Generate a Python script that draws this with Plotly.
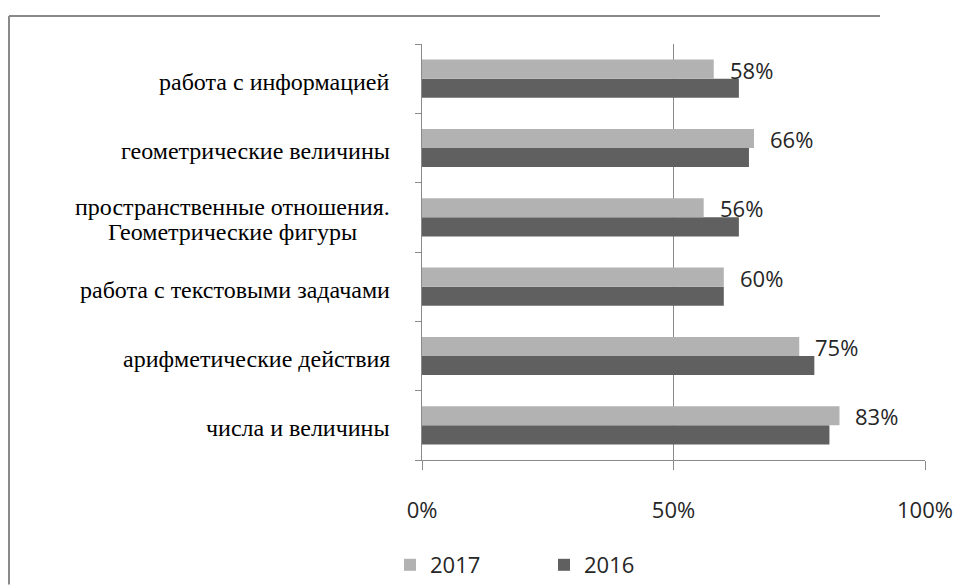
import plotly.graph_objects as go

# Categories (bottom to top) and shares of completed tasks
categories = [
    "числа и величины",
    "арифметические действия",
    "работа с текстовыми задачами",
    "пространственные отношения.<br>Геометрические фигуры",
    "геометрические величины",
    "работа с информацией",
]
values_2017 = [0.83, 0.75, 0.60, 0.56, 0.66, 0.58]
values_2016 = [0.81, 0.78, 0.60, 0.63, 0.65, 0.63]
x_tick_values = [0, 0.5, 1.0]
x_tick_labels = ["0%", "50%", "100%"]

COLOR_2017 = "#b2b2b2"
COLOR_2016 = "#606060"
AXIS_GRAY = "#8a8a8a"
TEXT_DARK = "#262626"
SANS = "Open Sans"
SERIF = "Liberation Serif"

W, H = 957, 585
ML, MR, MT, MB = 422, 32, 44, 125
PW, PH = W - ML - MR, H - MT - MB

LABEL_SIZE = 24
LABEL_RIGHT = -30        # px from the y axis to the right edge of a label
WRAP_CENTER = -190       # px from the y axis to the centre of a wrapped label
LINE_PITCH = 25


def px_to_paper_x(px):
    return (px - ML) / PW


def py_to_paper_y(py):
    return (H - MB - py) / PH


fig = go.Figure()
fig.add_trace(go.Bar(
    name="2016", y=categories, x=values_2016, orientation="h",
    marker=dict(color=COLOR_2016, line=dict(width=0)),
    legendrank=2, hoverinfo="skip",
))
fig.add_trace(go.Bar(
    name="2017", y=categories, x=values_2017, orientation="h",
    marker=dict(color=COLOR_2017, line=dict(width=0)),
    legendrank=1, hoverinfo="skip",
))

annotations = []
# category labels to the left of the axis; wrapped labels are centred line by line
for cat in categories:
    lines = cat.split("<br>")
    n = len(lines)
    for i, ln in enumerate(lines):
        offset = ((n - 1) / 2 - i) * LINE_PITCH
        annotations.append(dict(
            x=0, xref="paper", y=cat, yref="y", text=ln, showarrow=False,
            xanchor="right" if n == 1 else "center", yanchor="middle",
            xshift=LABEL_RIGHT if n == 1 else WRAP_CENTER,
            yshift=(-3 if n == 1 else -2) + offset,
            font=dict(family=SERIF, size=LABEL_SIZE, color="#000000"),
        ))
# value labels next to the 2017 bars
for cat, v in zip(categories, values_2017):
    annotations.append(dict(
        x=v, xref="x", y=cat, yref="y", text=f"{round(v * 100)}%", showarrow=False,
        xanchor="left", yanchor="middle", xshift=14, yshift=9,
        font=dict(family=SANS, size=22, color=TEXT_DARK),
    ))

# frame around the chart: its top and left edges
frame = [
    dict(type="line", xref="paper", yref="paper",
         x0=px_to_paper_x(9), x1=px_to_paper_x(880),
         y0=py_to_paper_y(16), y1=py_to_paper_y(16),
         line=dict(color=AXIS_GRAY, width=2), layer="below"),
    dict(type="line", xref="paper", yref="paper",
         x0=px_to_paper_x(9), x1=px_to_paper_x(9),
         y0=py_to_paper_y(16), y1=py_to_paper_y(H - 0.5),
         line=dict(color=AXIS_GRAY, width=2), layer="below"),
]

fig.update_layout(
    width=W, height=H,
    margin=dict(l=ML, r=MR, t=MT, b=MB, pad=0, autoexpand=False),
    paper_bgcolor="white", plot_bgcolor="white",
    barmode="group", bargap=0.45, bargroupgap=0,
    font=dict(family=SANS, size=22, color=TEXT_DARK),
    xaxis=dict(
        range=[0, 1], tickvals=x_tick_values, ticktext=x_tick_labels,
        showgrid=True, gridcolor=AXIS_GRAY, gridwidth=1,
        zeroline=False, showline=True, linecolor=AXIS_GRAY, linewidth=1,
        ticks="outside", ticklen=9, tickcolor=AXIS_GRAY, tickwidth=1,
        ticklabelstandoff=22, tickfont=dict(family=SANS, size=22, color=TEXT_DARK),
        automargin=False, fixedrange=True,
    ),
    yaxis=dict(
        type="category", range=[-0.5, 5.5],
        showticklabels=False, showgrid=False, zeroline=False,
        showline=True, linecolor=AXIS_GRAY, linewidth=1,
        ticks="outside", tickson="boundaries", ticklen=6,
        tickcolor=AXIS_GRAY, tickwidth=1, automargin=False, fixedrange=True,
    ),
    legend=dict(
        orientation="h", x=px_to_paper_x(390), y=py_to_paper_y(565),
        xanchor="left", yanchor="middle",
        entrywidth=109, itemwidth=30,
        font=dict(family=SANS, size=22, color=TEXT_DARK),
        bgcolor="rgba(0,0,0,0)",
    ),
    annotations=annotations,
    shapes=frame,
)

fig.write_html("out.html", config={"displayModeBar": False})
